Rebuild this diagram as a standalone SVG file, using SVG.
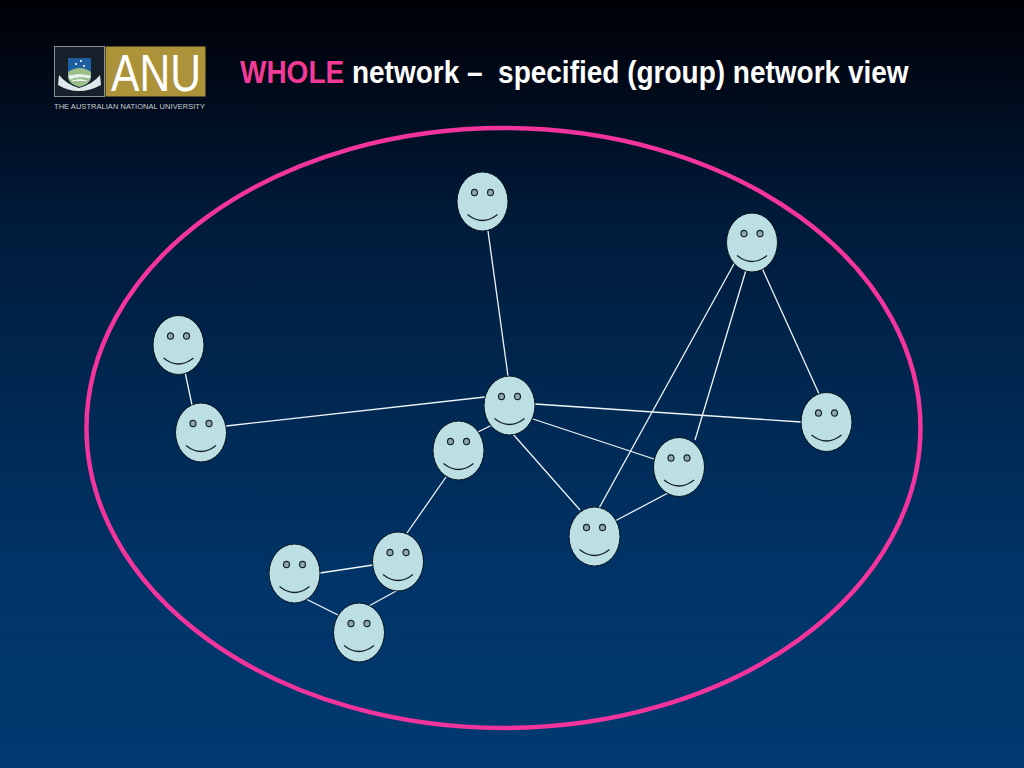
<svg xmlns="http://www.w3.org/2000/svg" xmlns:xlink="http://www.w3.org/1999/xlink" width="1024" height="768" viewBox="0 0 1024 768">
<defs>
<linearGradient id="bg" x1="0" y1="0" x2="0" y2="1">
<stop offset="0" stop-color="#000006"/><stop offset="0.06" stop-color="#000510"/><stop offset="0.3" stop-color="#001c3c"/><stop offset="0.75" stop-color="#003468"/><stop offset="1" stop-color="#003a70"/>
</linearGradient>
<g id="face">
<ellipse cx="0" cy="0" rx="25.5" ry="29.5" fill="#bcdfe3" stroke="#06121c" stroke-width="1"/>
<ellipse cx="-8" cy="-9" rx="3" ry="3.2" fill="#8fa9ad" stroke="#14222a" stroke-width="1.2"/>
<ellipse cx="8" cy="-9" rx="3" ry="3.2" fill="#8fa9ad" stroke="#14222a" stroke-width="1.2"/>
<path d="M-15 13Q0 25 15 13" fill="none" stroke="#14222a" stroke-width="1.3"/>
</g>
</defs>
<style>
.l{stroke:#eef5f8;stroke-width:1.3;fill:none}
.t{font-family:"Liberation Sans",Arial,sans-serif;font-weight:bold;font-size:32px;fill:#fff;white-space:pre}
</style>
<rect width="1024" height="768" fill="url(#bg)"/>
<g id="logo">
<rect x="54.500" y="46.500" width="50" height="50" fill="#15202a" stroke="#8a8f90" stroke-width="1"/>
<path d="M68 58H91V76Q91 84 79.500 87Q68 84 68 76Z" fill="#1d5ea0"/>
<path d="M68 72Q80 64 91 72V76Q91 84 79.500 87Q68 84 68 76Z" fill="#9cbf8a"/>
<path d="M69 76Q79 73 90 76V78Q79 75 70 79ZM72 81Q80 78 87 81" fill="#e8f2f4" stroke="#e8f2f4"/>
<path d="M59 75Q66 84 79 88Q93 84 100 75L101 85Q90 91 79 91Q68 91 58 85Z" fill="#dfe8ea"/>
<circle cx="81" cy="61" r="1" fill="#fff"/><circle cx="76" cy="64" r="1" fill="#fff"/><circle cx="84" cy="66" r="1" fill="#fff"/>
<rect x="105.500" y="46.500" width="100" height="50" fill="#ac9238"/>
<text x="111" y="91" font-family="Liberation Sans,Arial,sans-serif" font-size="52" fill="#fff" textLength="90" lengthAdjust="spacingAndGlyphs">ANU</text>
<text x="54" y="109" font-family="Liberation Sans,Arial,sans-serif" font-size="7.500" fill="#c8ccd0" textLength="151" lengthAdjust="spacing">THE AUSTRALIAN NATIONAL UNIVERSITY</text>
</g>
<text id="title" class="t" transform="translate(240 83) scale(.875 1)" xml:space="preserve"><tspan fill="#f23a96">WHOLE</tspan> network –  specified (group) network view</text>
<ellipse id="boundary" cx="503.500" cy="428" rx="417" ry="300" fill="none" stroke="#f2349c" stroke-width="4.5"/>
<g id="connectors" class="l">
<line x1="185" y1="372" x2="192" y2="405"/>
<line x1="226" y1="426" x2="485" y2="397"/>
<line x1="488" y1="231" x2="508" y2="376"/>
<line x1="478" y1="432" x2="492" y2="425"/>
<line x1="535" y1="404" x2="801" y2="422"/>
<line x1="533" y1="419" x2="654" y2="459"/>
<line x1="512" y1="433" x2="580" y2="510"/>
<line x1="735" y1="262" x2="598" y2="510"/>
<line x1="746" y1="270" x2="695" y2="440"/>
<line x1="762" y1="268" x2="820" y2="396"/>
<line x1="668" y1="493" x2="615" y2="521"/>
<line x1="446" y1="477" x2="407" y2="533"/>
<line x1="373" y1="565" x2="320" y2="573"/>
<line x1="398" y1="590" x2="358" y2="612"/>
<line x1="304" y1="598" x2="338" y2="615"/>
</g>
<g id="n1"><use xlink:href="#face" href="#face" x="482.500" y="201.500"/></g>
<g id="n2"><use xlink:href="#face" href="#face" x="752" y="242.500"/></g>
<g id="n3"><use xlink:href="#face" href="#face" x="178.500" y="345"/></g>
<g id="n4"><use xlink:href="#face" href="#face" x="201" y="432.500"/></g>
<g id="n5"><use xlink:href="#face" href="#face" x="509.500" y="405.500"/></g>
<g id="n6"><use xlink:href="#face" href="#face" x="458.500" y="450.500"/></g>
<g id="n7"><use xlink:href="#face" href="#face" x="826.500" y="422"/></g>
<g id="n8"><use xlink:href="#face" href="#face" x="679" y="467"/></g>
<g id="n9"><use xlink:href="#face" href="#face" x="594.500" y="536.500"/></g>
<g id="n10"><use xlink:href="#face" href="#face" x="398" y="561.500"/></g>
<g id="n11"><use xlink:href="#face" href="#face" x="294.500" y="573.500"/></g>
<g id="n12"><use xlink:href="#face" href="#face" x="359" y="632.500"/></g>
</svg>
